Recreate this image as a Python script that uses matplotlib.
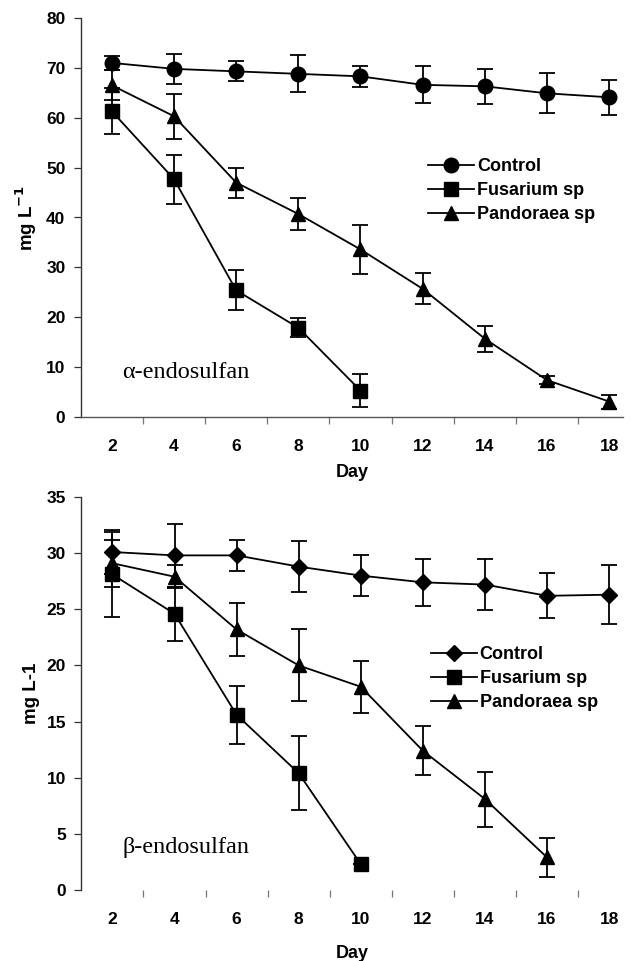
import matplotlib
matplotlib.use("Agg")
import matplotlib.pyplot as plt
from matplotlib.lines import Line2D
import numpy as np

days = [2, 4, 6, 8, 10, 12, 14, 16, 18]
series_names = ["Control", "Fusarium sp", "Pandoraea sp"]

# alpha-endosulfan
a_control = [71.0, 69.8, 69.3, 68.8, 68.3, 66.6, 66.3, 64.9, 64.1]
a_control_err = [1.4, 3.0, 2.0, 3.7, 2.1, 3.7, 3.5, 4.0, 3.5]
a_fusarium = [61.3, 47.7, 25.4, 17.9, 5.3]
a_fusarium_err = [4.6, 4.9, 4.0, 1.9, 3.3]
a_pandoraea = [66.5, 60.3, 47.0, 40.7, 33.6, 25.7, 15.7, 7.4, 3.1]
a_pandoraea_err = [3.0, 4.5, 3.0, 3.2, 4.9, 3.1, 2.6, 0.8, 1.4]

# beta-endosulfan
b_control = [30.1, 29.8, 29.8, 28.8, 28.0, 27.4, 27.2, 26.2, 26.3]
b_control_err = [2.0, 2.8, 1.4, 2.3, 1.8, 2.1, 2.3, 2.0, 2.6]
b_fusarium = [28.1, 24.6, 15.6, 10.4, 2.3]
b_fusarium_err = [3.8, 2.4, 2.6, 3.3, 0.0]
b_pandoraea = [29.1, 27.9, 23.2, 20.0, 18.1, 12.4, 8.1, 2.9]
b_pandoraea_err = [2.1, 1.0, 2.4, 3.2, 2.3, 2.2, 2.45, 1.7]

yticks_a = [0, 10, 20, 30, 40, 50, 60, 70, 80]
yticks_b = [0, 5, 10, 15, 20, 25, 30, 35]

SANS = "Liberation Sans"
SERIF = "Liberation Serif"

fig = plt.figure(figsize=(6.31, 9.61), dpi=100)

def draw(ax, data, markers, yticks, ylabel, note, leg_anchor, xlabelpad, tickpad, show_bottom):
    x_all = np.arange(1, len(days) + 1)
    handles = []
    for (vals, errs), mk, name in zip(data, markers, series_names):
        x = x_all[:len(vals)]
        ax.errorbar(x, vals, yerr=errs, color="black", marker=mk[0], markersize=mk[1],
                    lw=1.3, elinewidth=1.3, capsize=5.5, capthick=1.3,
                    markerfacecolor="black", markeredgecolor="black", clip_on=False)
        handles.append(Line2D([], [], color="black", lw=1.3, marker=mk[0], markersize=mk[1]))
    ax.set_xlim(0.5, 9.22)
    ax.set_ylim(yticks[0], yticks[-1])
    ax.set_yticks(yticks)
    ax.set_xticks(x_all)
    ax.set_xticklabels([str(d) for d in days])
    ax.set_xticks(np.arange(1.5, 9.0, 1.0), minor=True)
    ax.tick_params(axis="x", which="major", length=0, pad=tickpad)
    ax.tick_params(axis="x", which="minor", length=5, width=0.9, direction="out", color="#777777")
    ax.tick_params(axis="y", length=5, width=0.9, direction="out", pad=6, color="#333333")
    for lab in ax.get_xticklabels() + ax.get_yticklabels():
        lab.set_fontfamily(SANS)
        lab.set_fontweight("bold")
        lab.set_fontsize(12.5)
    for s in ["top", "right"]:
        ax.spines[s].set_visible(False)
    ax.spines["left"].set_linewidth(1.0)
    ax.spines["left"].set_color("#333333")
    ax.spines["bottom"].set_linewidth(1.0)
    ax.spines["bottom"].set_color("#555555")
    ax.spines["bottom"].set_visible(show_bottom)
    ax.set_xlabel("Day", fontfamily=SANS, fontweight="bold", fontsize=13, labelpad=xlabelpad)
    ax.set_ylabel(ylabel, fontfamily=SANS, fontweight="bold", fontsize=13.5, labelpad=5)
    ax.text(1.17, note[1], note[0], fontfamily=SERIF, fontsize=17.5, va="center", ha="left")
    ax.legend(handles, series_names, loc="upper left", bbox_to_anchor=leg_anchor,
              bbox_transform=fig.transFigure, frameon=False, numpoints=1,
              handlelength=2.55, handletextpad=0.15, labelspacing=0.4, borderpad=0,
              borderaxespad=0, prop={"family": SANS, "weight": "bold", "size": 13})

ax1 = fig.add_axes([0.128, 1 - 417 / 961, 0.859, (417 - 18) / 961])
draw(ax1, [(a_control, a_control_err), (a_fusarium, a_fusarium_err), (a_pandoraea, a_pandoraea_err)],
     [("o", 10.5), ("s", 9.5), ("^", 10.5)], yticks_a, r"mg L$^{\mathbf{-1}}$", ("α-endosulfan", 9.0),
     (428 / 631, 1 - 158 / 961), 7, 16, True)

ax2 = fig.add_axes([0.129, 1 - 890 / 961, 0.858, (890 - 497) / 961])
draw(ax2, [(b_control, b_control_err), (b_fusarium, b_fusarium_err), (b_pandoraea, b_pandoraea_err)],
     [("D", 8.5), ("s", 9.5), ("^", 10.5)], yticks_b, "mg L-1", ("β-endosulfan", 3.8),
     (431 / 631, 1 - 646 / 961), 13, 16, False)

fig.savefig("out.png", dpi=100)
